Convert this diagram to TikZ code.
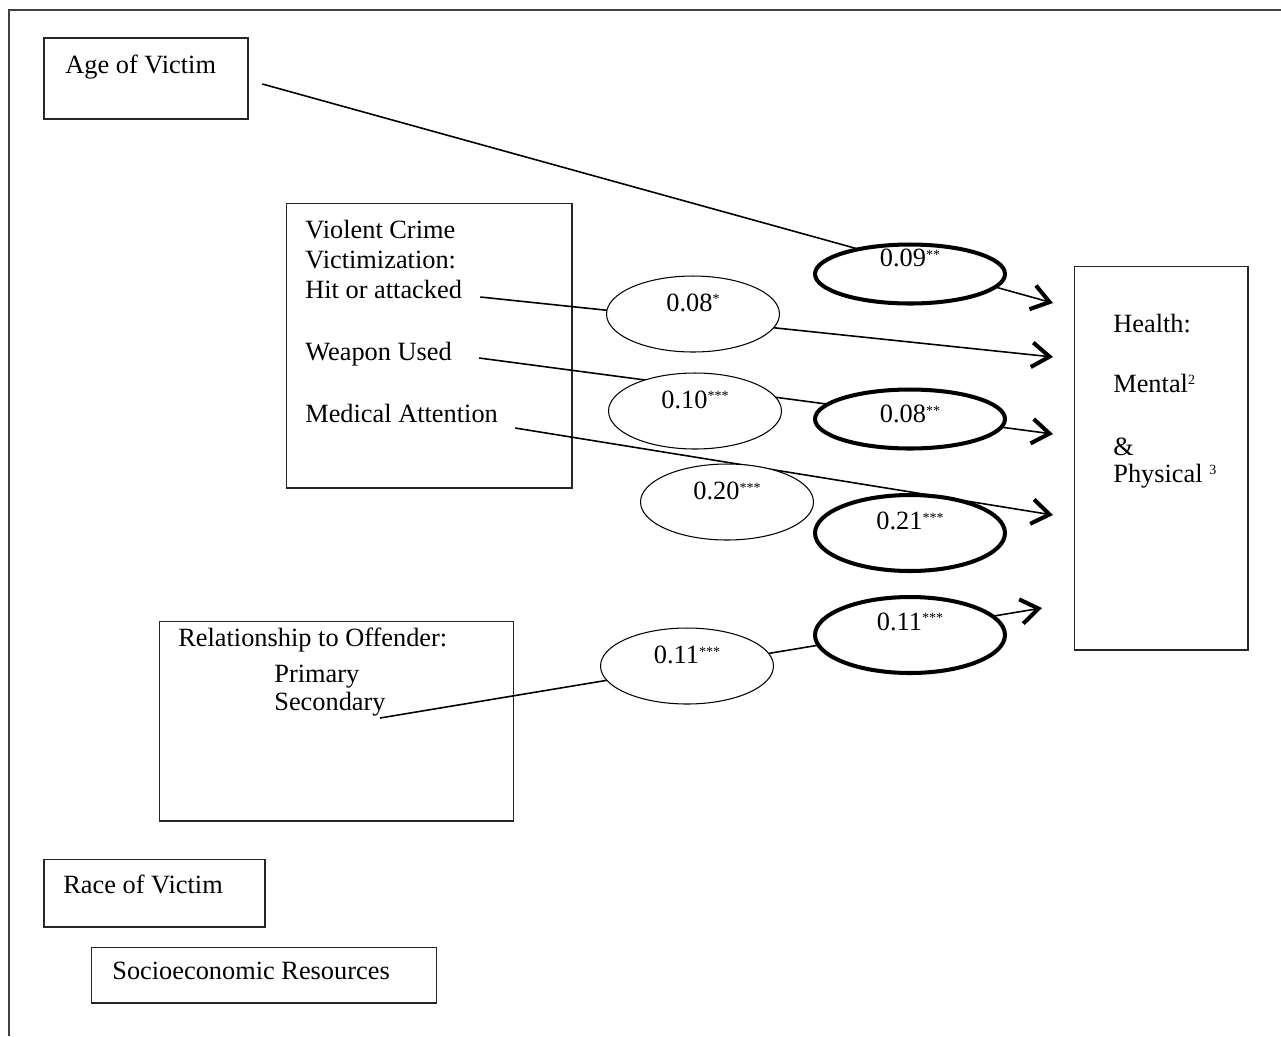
\documentclass[tikz,border=0pt]{standalone}
\usepackage{fontspec}
\setmainfont{Liberation Serif}
\usetikzlibrary{shapes.geometric,arrows.meta,calc}

\newcommand\sig[1]{\raisebox{4pt}{\fontsize{8}{9}\selectfont #1}}
\newcommand\fnote[1]{\raisebox{4.5pt}{\fontsize{8}{9}\selectfont #1}}

\tikzset{
  box/.style={draw=black!85, line width=0.6pt, inner sep=0pt},
  lbl/.style={anchor=base west, inner sep=0pt, font=\fontsize{15}{17}\selectfont},
  coef/.style={ellipse, draw, fill=white, inner sep=0pt, text height=0pt, text depth=3.4pt,
    font=\fontsize{15}{17}\selectfont},
  thinell/.style={coef, line width=0.6pt, minimum width=3.46cm, minimum height=1.52cm},
  boldell/.style={coef, line width=2.3pt, minimum width=3.8cm},
  effect/.style={line width=0.9pt, -{Straight Barb[length=10pt,width=14pt,line width=2.3pt]}}
}

\begin{document}
\begin{tikzpicture}[x=0.02cm, y=-0.02cm]
    \useasboundingbox (0,0) rectangle (1281,1036);

    % Page frame
    \draw[line width=1.1pt, black!75] (9,1036) -- (9,10) -- (1281,10);

    % Boxes
    \node[box, minimum width=4.08cm, minimum height=1.62cm] (age) at (146,78.5) {};
    \node[box, minimum width=5.72cm, minimum height=5.70cm] (crime) at (429,345.5) {};
    \node[box, minimum width=3.48cm, minimum height=7.68cm] (health) at (1161,458) {};
    \node[box, minimum width=7.10cm, minimum height=4.00cm] (rel) at (336.5,721) {};
    \node[box, minimum width=4.42cm, minimum height=1.36cm] (race) at (154.5,893) {};
    \node[box, minimum width=6.92cm, minimum height=1.12cm] (ses) at (264,975) {};

    % Box texts
    \node[lbl] (agelbl) at (65,73) {Age of Victim};
    \node[lbl] (violent) at (305,238) {Violent Crime};
    \node[lbl] (victim) at (305,268) {Victimization:};
    \node[lbl] (hit) at (305,298) {Hit or attacked};
    \node[lbl] (weapon) at (305,360) {Weapon Used};
    \node[lbl] (medical) at (305,422) {Medical Attention};
    \node[lbl] (rellbl) at (178,646) {Relationship to Offender:};
    \node[lbl] (primary) at (274,682) {Primary};
    \node[lbl] (secondary) at (274,710) {Secondary};
    \node[lbl] (racelbl) at (63,893) {Race of Victim};
    \node[lbl] (seslbl) at (112,979) {Socioeconomic Resources};
    \node[lbl] (healthlbl) at (1113,332) {Health:};
    \node[lbl] (mental) at (1113,392) {Mental\fnote{2}};
    \node[lbl] (amp) at (1113,455) {\&};
    \node[lbl] (physical) at (1113,482) {Physical \fnote{3}};

    % Arrow ends
    \coordinate (tipA) at (1053,303);
    \coordinate (tipB) at (1053,357);
    \coordinate (tipC) at (1053,434);
    \coordinate (tipD) at (1053,515);
    \coordinate (tipE) at (1042,608);

    % Paths
    \draw[effect] ($(agelbl.base east)+(46,11)$) -- (tipA);
    \draw[effect] ($(hit.base east)+(18,-1)$) -- (tipB);
    \draw[effect] ($(weapon.base east)+(27,-2)$) -- (tipC);
    \draw[effect] ($(medical.base east)+(17,6)$) -- (tipD);
    \draw[effect] ($(secondary.base east)+(-6,8)$) -- (tipE);

    % Coefficients
    \node[thinell] (cHit) at (693,314) {0.08\sig{*}};
    \node[thinell] (cWeapon) at (695,411) {0.10\sig{***}};
    \node[thinell] (cMedical) at (727,502) {0.20\sig{***}};
    \node[thinell] (cRel) at (687,666) {0.11\sig{***}};
    \node[boldell, minimum height=1.18cm, text depth=9pt] (bAge) at (910,274) {0.09\sig{**}};
    \node[boldell, minimum height=1.18cm, text height=4.5pt, text depth=0pt] (bWeapon) at (910,419) {0.08\sig{**}};
    \node[boldell, minimum height=1.52cm, text depth=4.5pt] (bMedical) at (910,533) {0.21\sig{***}};
    \node[boldell, minimum height=1.52cm, text depth=5.7pt] (bRel) at (910,635) {0.11\sig{***}};
\end{tikzpicture}
\end{document}
